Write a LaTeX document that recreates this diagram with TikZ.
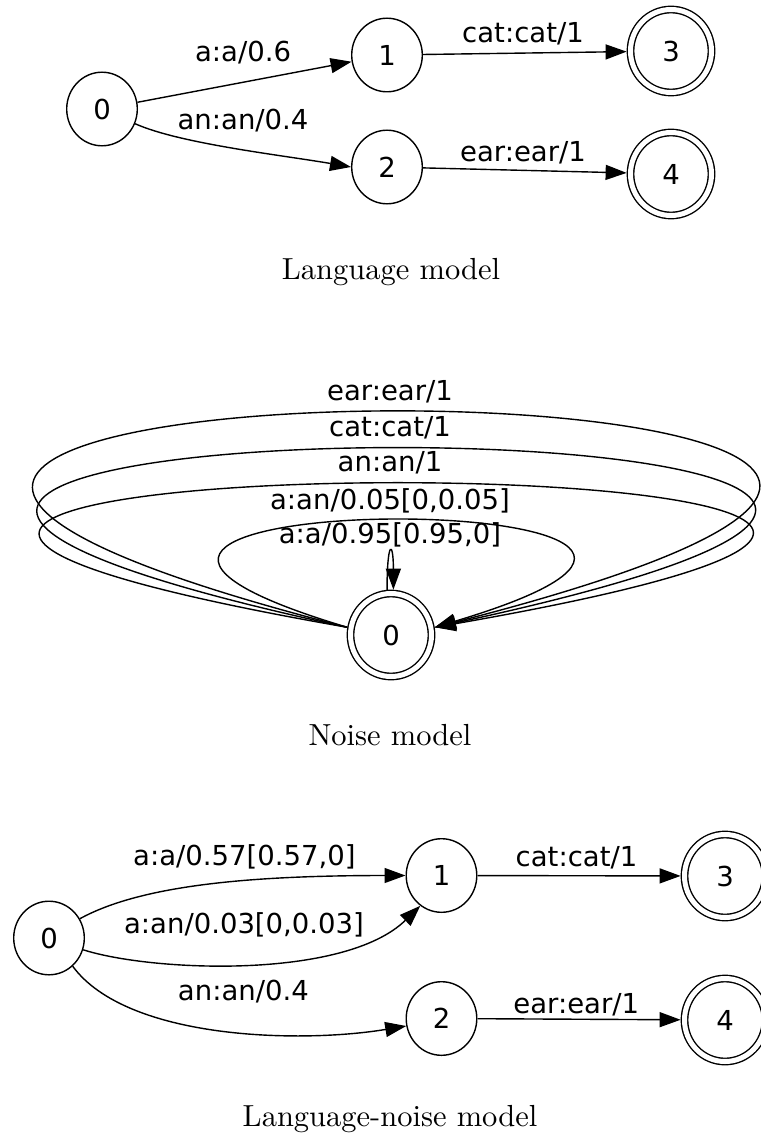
\documentclass[tikz,border=0pt]{standalone}
\usepackage{fontspec}
\newfontfamily\edgefont{DejaVu Sans}
\newfontfamily\capfont{lmroman10-regular}[Extension=.otf]
\usetikzlibrary{arrows.meta,shapes.geometric}
\begin{document}
\begin{tikzpicture}[x=1pt,y=-1pt,
  every node/.style={inner sep=0pt, outer sep=0pt},
  state/.style={ellipse, draw, line width=1.4pt, minimum width=70.6pt, minimum height=73.6pt,
    outer sep=0.7pt, font=\edgefont\fontsize{27.5}{33}\selectfont},
  final/.style={state, double, double distance=5pt, minimum width=81pt, minimum height=83pt, outer sep=3.9pt},
  lbl/.style={anchor=base, font=\edgefont\fontsize{27.5}{33}\selectfont},
  caption/.style={anchor=base, font=\capfont\fontsize{30.5}{36}\selectfont},
  edge/.style={line width=1.4pt, -{Triangle[length=21pt,width=15pt]}},
]
\useasboundingbox (0,0) rectangle (760,1134);

% ---------- language model ----------
\node[state] (t0) at (102,109) {0};
\node[state] (t1) at (387,55) {1};
\node[state] (t2) at (387,167) {2};
\node[final] (t3) at (671,51) {3};
\node[final] (t4) at (671,174) {4};

\draw[edge] (t0) -- (t1);
\draw[edge] (t0.-24) .. controls +(45,20) and +(-70,-12) .. (t2.180);
\draw[edge] (t1) -- (t3);
\draw[edge] (t2) -- (t4);

\node[lbl] (la) at (243,61.7) {a:a/0.6};
\node[lbl] (lb) at (243,130) {an:an/0.4};
\node[lbl] (lc) at (523,43) {cat:cat/1};
\node[lbl] (ld) at (523,161.7) {ear:ear/1};
\node[caption] (cap1) at (391,279.3) {Language model};

% ---------- noise model ----------
\node[final] (n0) at (391,635) {0};

\draw[edge] (n0.170) .. controls +(-1125,-287.7) and +(1125,-287.7) .. (n0.10);
\draw[edge] (n0.170) .. controls +(-1110,-238.9) and +(1110,-238.9) .. (n0.10);
\draw[edge] (n0.170) .. controls +(-1102,-192.2) and +(1102,-192.2) .. (n0.10);
\draw[edge] (n0.170) .. controls +(-480,-143.4) and +(480,-143.4) .. (n0.10);
\draw[edge] (n0.95) .. controls +(0,-50) and +(0,-50) .. (n0.87);

\node[lbl] (ne) at (390,400.7) {ear:ear/1};
\node[lbl] (nc) at (390,436) {cat:cat/1};
\node[lbl] (nn) at (390,471.7) {an:an/1};
\node[lbl] (nb) at (390,509.3) {a:an/0.05[0,0.05]};
\node[lbl] (na) at (390,543) {a:a/0.95[0.95,0]};
\node[caption] (cap2) at (390,745) {Noise model};

% ---------- composed model ----------
\node[state] (b0) at (49,938) {0};
\node[state] (b1) at (441.5,875.5) {1};
\node[state] (b2) at (441.5,1018.5) {2};
\node[final] (b3) at (725,876) {3};
\node[final] (b4) at (725,1020) {4};

\draw[edge] (b0.32) .. controls +(62,-34) and +(-153,0) .. (b1.west);
\draw[edge] (b0.-19) .. controls +(68.5,22) and +(-76,74) .. (b1.235);
\draw[edge] (b0.-50) .. controls +(54.5,74) and +(-104.3,17.4) .. (b2.192);
\draw[edge] (b1) -- (b3);
\draw[edge] (b2) -- (b4);

\node[lbl] (ma) at (244.4,865) {a:a/0.57[0.57,0]};
\node[lbl] (mb) at (244,933) {a:an/0.03[0,0.03]};
\node[lbl] (mc) at (243.4,1000) {an:an/0.4};
\node[lbl] (md) at (576.5,866.7) {cat:cat/1};
\node[lbl] (me) at (576.3,1013) {ear:ear/1};
\node[caption] (cap3) at (390,1126) {Language-noise model};
\end{tikzpicture}
\end{document}
